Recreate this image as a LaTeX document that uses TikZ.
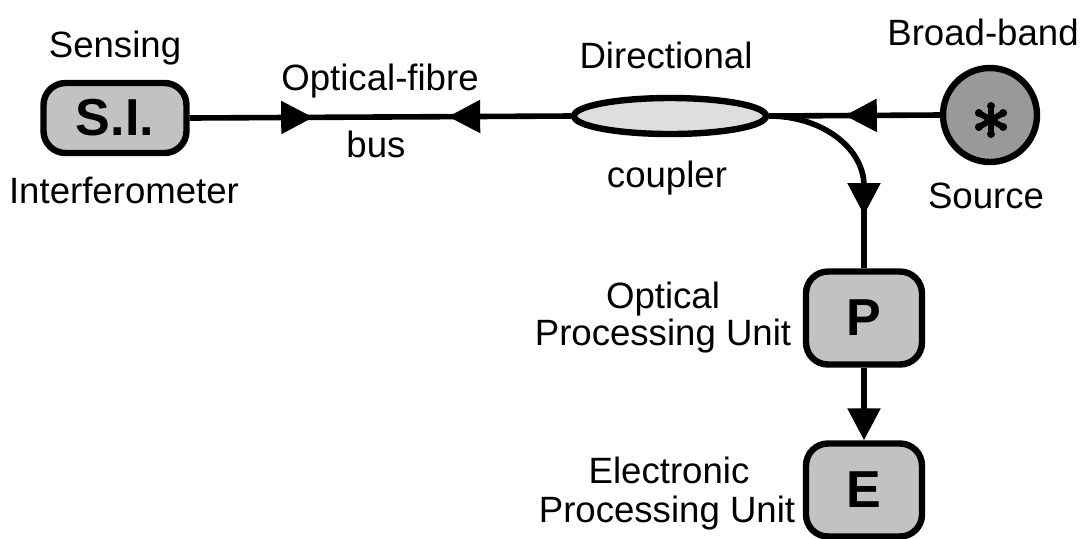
\documentclass[tikz,border=0pt]{standalone}
\usepackage{fontspec}
\setmainfont{Liberation Sans}
\usetikzlibrary{arrows.meta,shapes.geometric,decorations.markings}
\definecolor{boxgray}{gray}{0.76}
\definecolor{ellgray}{gray}{0.87}
\definecolor{srcgray}{gray}{0.60}
\tikzset{
  unitbox/.style={draw, line width=3.2pt, rounded corners=11pt, fill=boxgray, inner sep=0pt,
    minimum width=58pt, minimum height=46.5pt, font=\bfseries\fontsize{26}{30}\selectfont},
  lbl/.style={anchor=base, inner sep=0pt, font=\fontsize{18.3}{22}\selectfont},
  wire/.style={line width=2.8pt},
  tip/.tip={Triangle[width=16pt,length=16pt]},
}
\begin{document}
\begin{tikzpicture}[x=0.5pt,y=-0.5pt]
\useasboundingbox (0,0) rectangle (1083,538);
% nodes
\node[unitbox, minimum width=71.5pt, minimum height=35pt] (SI) at (115,118) {S.I.};
\node[draw, ellipse, line width=3.2pt, fill=ellgray, inner sep=0pt,
      minimum width=96pt, minimum height=18pt] (C) at (670,116) {};
\node[draw, circle, line width=3.2pt, fill=srcgray, inner sep=0pt, minimum size=47pt] (S) at (990,115) {};
\node[unitbox] (P) at (864,318) {P};
\node[unitbox] (E) at (864,490) {E};
% asterisk in source
\begin{scope}[line width=3pt, line cap=round]
  \foreach \a in {90,270,30,150,210,330}{
    \draw (991,120) -- ++(\a:-14);
    \fill (991,120) ++(\a:-14) circle (4);
  }
\end{scope}
% labels
\node[lbl] (l1) at (115,57) {Sensing};
\node[lbl] (l2) at (124,203) {Interferometer};
\node[lbl] (l3) at (380,90) {Optical-fibre};
\node[lbl] (l4) at (376,157) {bus};
\node[lbl] (l5) at (666,68) {Directional};
\node[lbl] (l6) at (667,187) {coupler};
\node[lbl] (l7) at (983,45) {Broad-band};
\node[lbl] (l8) at (986,208) {Source};
\node[lbl] (l9) at (663,308) {Optical};
\node[lbl] (l10) at (663,345) {Processing Unit};
\node[lbl] (l11) at (669,483) {Electronic};
\node[lbl] (l12) at (667,522) {Processing Unit};
% connectors
\draw[wire, postaction={decorate}, decoration={markings,
   mark=at position 61.75pt with {\arrow{tip}},
   mark=at position 129.25pt with {\arrowreversed{tip}}}] (SI.east) -- (C.west);
\draw[wire, postaction={decorate}, decoration={markings,
   mark=at position 47.5pt with {\arrow{tip}}}] (S.west) -- (C.east);
\coordinate (bend) at (864,186);
\draw[wire] (C.east) .. controls (822,116) and (864,148) .. (bend);
\draw[wire, postaction={decorate}, decoration={markings,
   mark=at position 14.5pt with {\arrow{tip}}}] (bend) -- (P.north);
\draw[wire, -{tip}] (P.south) -- (E.north);
\end{tikzpicture}
\end{document}
